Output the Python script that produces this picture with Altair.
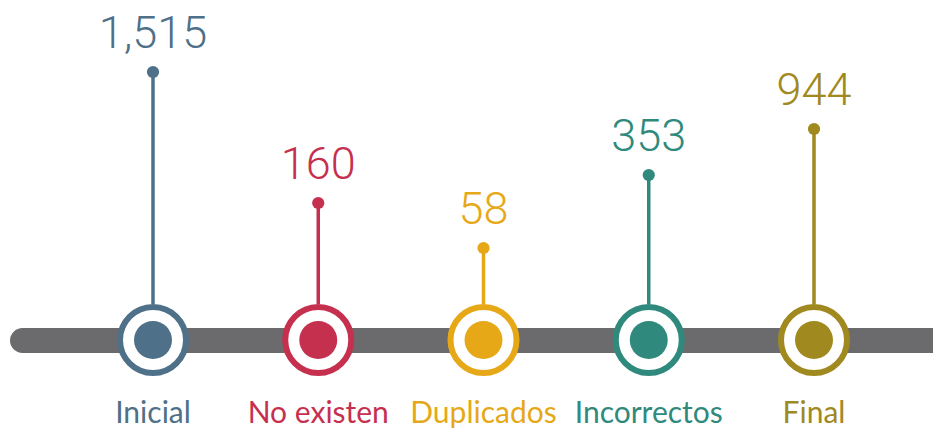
import altair as alt
import pandas as pd

categorias = ["Inicial", "No existen", "Duplicados", "Incorrectos", "Final"]
valores = [1515, 160, 58, 353, 944]
colores = ["#4e7088", "#c6304f", "#e6a817", "#2f8a7d", "#a0891e"]

df = pd.DataFrame({"categoria": categorias, "valor": valores})

x_enc = alt.X("categoria:N", sort=categorias, axis=None,
              scale=alt.Scale(type="point", domain=categorias, range=[145, 806], padding=0))
# piecewise scale (stem heights are not proportional)
y_scale = alt.Scale(domain=[58, 160, 353, 944, 1515], range=[240, 195, 167, 121, 64])
y_enc = alt.Y("valor:Q", axis=None, scale=y_scale)
col_scale = alt.Scale(domain=categorias, range=colores)
color_enc = alt.Color("categoria:N", scale=col_scale, legend=None)

base = alt.Chart(df)

linea = alt.Chart(pd.DataFrame({"k": [0]})).mark_rule(
    strokeWidth=25, strokeCap="round", color="#6b6b6d"
).encode(x=alt.value(14.5), x2=alt.value(980), y=alt.value(332.5))

tallo = base.mark_rule(strokeWidth=3.5).encode(
    x=x_enc, y=y_enc, y2=alt.value(296), color=color_enc)

punta = base.mark_circle(size=150, opacity=1).encode(x=x_enc, y=y_enc, color=color_enc)

anillo = base.mark_circle(size=4356, fill="white", fillOpacity=1, strokeWidth=6, opacity=1).encode(
    x=x_enc, y=alt.value(332),
    stroke=alt.Stroke("categoria:N", scale=col_scale, legend=None))

centro = base.mark_circle(size=1444, opacity=1).encode(x=x_enc, y=alt.value(332), color=color_enc)

valor_txt = base.mark_text(font="Roboto", fontWeight=300, fontSize=45,
                           baseline="alphabetic", align="center", dy=-24).encode(
    x=x_enc, y=y_enc, color=color_enc, text=alt.Text("valor:Q", format=","))

cat_txt = base.mark_text(font="Lato", fontSize=30, baseline="alphabetic", align="center").encode(
    x=x_enc, y=alt.value(415), color=color_enc, text="categoria:N")

chart = alt.layer(linea, tallo, punta, anillo, centro, valor_txt, cat_txt).properties(
    width=925, height=420,
    autosize=alt.AutoSizeParams(type="none"),
    padding=0,
).configure_view(stroke=None)

chart.save("out.html", embed_options={"renderer": "svg", "actions": False})
